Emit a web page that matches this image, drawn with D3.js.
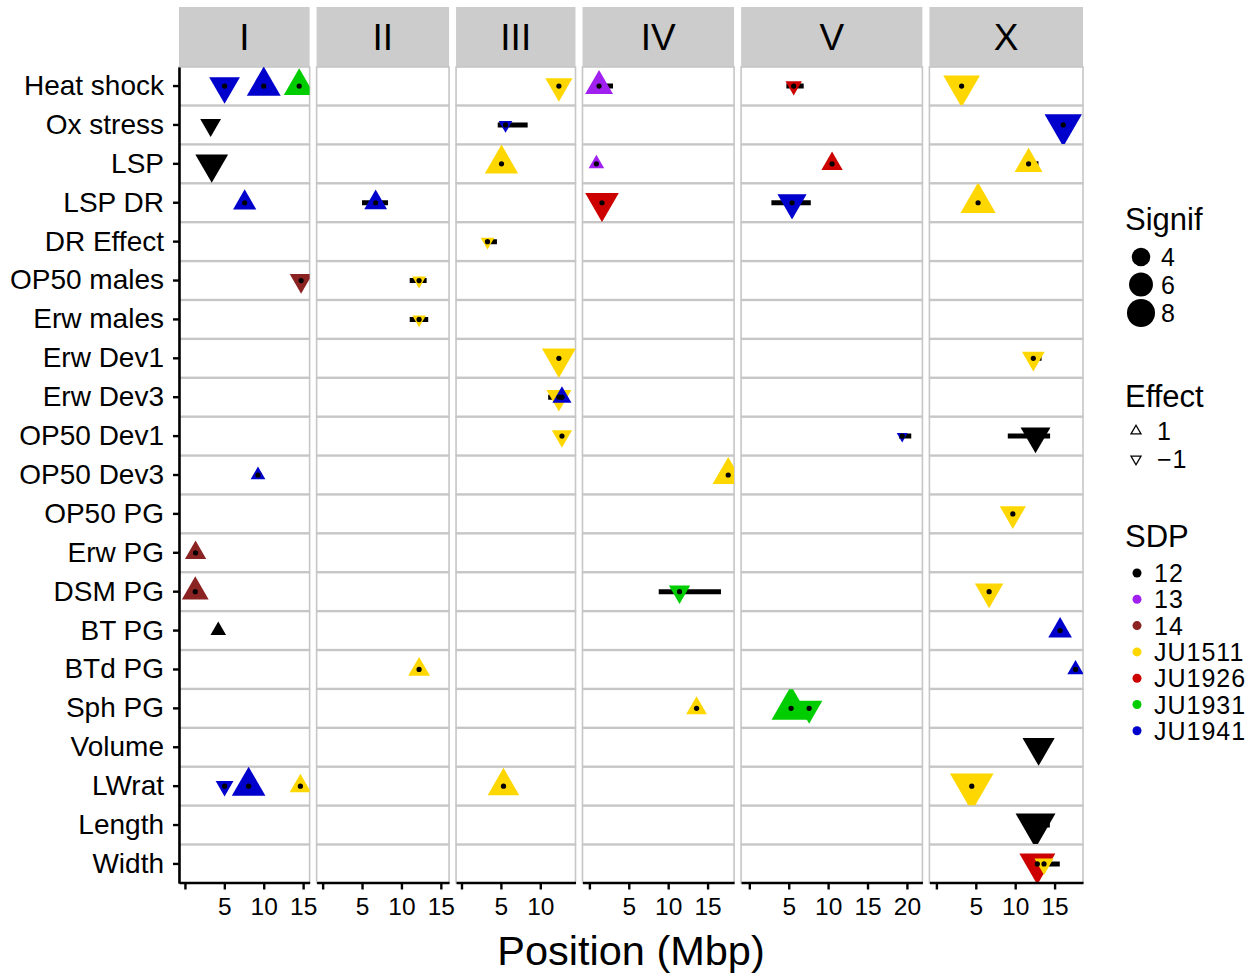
<!DOCTYPE html>
<html>
<head>
<meta charset="utf-8">
<script src="https://cdn.jsdelivr.net/npm/d3@7"></script>
<style>
  body { margin: 0; background: #fff; }
  svg text { font-family: "Liberation Sans", Arial, sans-serif; fill: #000; }
</style>
</head>
<body>
<div id="chart"></div>
<script>
// traits (rows) and chromosomes (columns)
var traits = ["Heat shock", "Ox stress", "LSP", "LSP DR", "DR Effect", "OP50 males", "Erw males",
  "Erw Dev1", "Erw Dev3", "OP50 Dev1", "OP50 Dev3", "OP50 PG", "Erw PG", "DSM PG", "BT PG",
  "BTd PG", "Sph PG", "Volume", "LWrat", "Length", "Width"];
var chroms = ["I", "II", "III", "IV", "V", "X"];
var chromLen = [15.07, 15.28, 13.78, 17.49, 20.92, 17.72];   // Mbp
var xTicks = [0, 5, 10, 15, 20];

var sdpLevels = ["12", "13", "14", "JU1511", "JU1926", "JU1931", "JU1941"];
var sdpColors = ["#000000", "#A020F0", "#8B2323", "#FFD700", "#CD0000", "#00CD00", "#0000CD"];
var signifBreaks = [4, 6, 8];
var effectLevels = [1, -1];

// QTL peaks: trait, chrom, position (Mbp), signif, effect, SDP
var peaks = [
  ["Heat shock", "I", 5.03, 5.9, -1, "JU1941"],
  ["Heat shock", "I", 10.0, 7.0, 1, "JU1941"],
  ["Heat shock", "I", 14.5, 5.9, 1, "JU1931"],
  ["Heat shock", "III", 12.36, 4.8, -1, "JU1511"],
  ["Heat shock", "IV", 1.23, 5.0, 1, "13"],
  ["Heat shock", "V", 5.63, 2.6, -1, "JU1926"],
  ["Heat shock", "X", 3.2, 8.1, -1, "JU1511"],
  ["Ox stress", "I", 3.26, 3.3, -1, "12"],
  ["Ox stress", "III", 5.59, 2.3, -1, "JU1941"],
  ["Ox stress", "X", 16.1, 8.4, -1, "JU1941"],
  ["LSP", "I", 3.4, 6.6, -1, "12"],
  ["LSP", "III", 5.08, 6.8, 1, "JU1511"],
  ["LSP", "IV", 0.89, 2.5, 1, "13"],
  ["LSP", "V", 10.5, 3.4, 1, "JU1926"],
  ["LSP", "X", 11.7, 5.0, 1, "JU1511"],
  ["LSP DR", "I", 7.58, 3.8, 1, "JU1941"],
  ["LSP DR", "II", 6.73, 3.7, 1, "JU1941"],
  ["LSP DR", "IV", 1.6, 6.9, -1, "JU1926"],
  ["LSP DR", "V", 5.42, 5.4, -1, "JU1941"],
  ["LSP DR", "X", 5.29, 7.5, 1, "JU1511"],
  ["DR Effect", "III", 3.3, 2.3, -1, "JU1511"],
  ["OP50 males", "I", 14.74, 3.7, -1, "14"],
  ["OP50 males", "II", 12.24, 2.3, -1, "JU1511"],
  ["Erw males", "II", 12.24, 2.3, -1, "JU1511"],
  ["Erw Dev1", "III", 12.36, 7.0, -1, "JU1511"],
  ["Erw Dev1", "X", 12.3, 3.7, -1, "JU1511"],
  ["Erw Dev3", "III", 12.36, 4.2, -1, "JU1511"],
  ["Erw Dev3", "III", 12.75, 3.0, 1, "JU1941"],
  ["OP50 Dev1", "III", 12.75, 3.2, -1, "JU1511"],
  ["OP50 Dev1", "V", 19.4, 2.1, -1, "JU1941"],
  ["OP50 Dev1", "X", 12.58, 5.6, -1, "12"],
  ["OP50 Dev3", "I", 9.27, 2.4, 1, "JU1941"],
  ["OP50 Dev3", "IV", 17.62, 6.1, 1, "JU1511"],
  ["OP50 PG", "X", 9.7, 4.5, -1, "JU1511"],
  ["Erw PG", "I", 1.35, 3.4, 1, "14"],
  ["DSM PG", "I", 1.31, 4.7, 1, "14"],
  ["DSM PG", "IV", 11.44, 3.4, -1, "JU1931"],
  ["DSM PG", "X", 6.69, 5.2, -1, "JU1511"],
  ["BT PG", "I", 4.23, 2.5, 1, "12"],
  ["BT PG", "X", 15.7, 3.9, 1, "JU1941"],
  ["BTd PG", "II", 12.24, 3.5, 1, "JU1511"],
  ["BTd PG", "X", 17.66, 2.6, 1, "JU1941"],
  ["Sph PG", "IV", 13.6, 3.3, 1, "JU1511"],
  ["Sph PG", "V", 5.3, 9.1, 1, "JU1931"],
  ["Sph PG", "V", 7.59, 4.6, -1, "JU1931"],
  ["Volume", "X", 12.97, 6.4, -1, "12"],
  ["LWrat", "I", 5.03, 2.8, -1, "JU1941"],
  ["LWrat", "I", 8.08, 6.9, 1, "JU1941"],
  ["LWrat", "I", 14.65, 3.4, 1, "JU1511"],
  ["LWrat", "III", 5.33, 6.2, 1, "JU1511"],
  ["LWrat", "X", 4.49, 11.3, -1, "JU1511"],
  ["Length", "X", 12.58, 9.5, -1, "12"],
  ["Width", "X", 12.81, 7.8, -1, "JU1926"],
  ["Width", "X", 13.66, 3.0, -1, "JU1511"]
];

// confidence intervals: trait, chrom, left (Mbp), right (Mbp)
var intervals = [
  ["Heat shock", "IV", 0.9, 3.0],
  ["Heat shock", "V", 4.7, 6.9],
  ["Ox stress", "III", 4.6, 8.4],
  ["LSP", "X", 11.0, 12.95],
  ["LSP DR", "II", 5.0, 8.3],
  ["LSP DR", "V", 2.8, 7.8],
  ["DR Effect", "III", 3.0, 4.5],
  ["OP50 males", "II", 11.05, 13.2],
  ["Erw males", "II", 11.05, 13.4],
  ["Erw Dev1", "X", 12.0, 13.35],
  ["Erw Dev3", "III", 11.0, 12.9],
  ["OP50 Dev1", "V", 19.0, 20.55],
  ["OP50 Dev1", "X", 9.06, 14.43],
  ["OP50 Dev3", "I", 9.0, 9.7],
  ["DSM PG", "IV", 8.8, 16.7],
  ["Length", "X", 11.5, 14.4],
  ["Width", "X", 12.2, 15.66]
];

var svgWidth = 1260, svgHeight = 978;
var plotLeft = 179, plotRight = 1083, stripTop = 7, stripH = 60;
var rowTop = 67, rowBottom = 883, gap = 7;

var svg = d3.select("#chart").append("svg")
  .attr("width", svgWidth)
  .attr("height", svgHeight);
svg.append("rect").attr("width", svgWidth).attr("height", svgHeight).attr("fill", "#fff");

// column widths follow chromosome length (free space)
var pxPerMb = (plotRight - plotLeft - gap * (chroms.length - 1)) / (1.1 * d3.sum(chromLen));
var xScales = {};
var left = plotLeft;
chroms.forEach(function(c, i) {
  var L = chromLen[i];
  var w = 1.1 * L * pxPerMb;
  xScales[c] = d3.scaleLinear().domain([-0.05 * L, 1.05 * L]).range([left, left + w]);
  left += w + gap;
});

var yScale = d3.scaleBand().domain(traits).range([rowTop, rowBottom]).paddingInner(0.02);
var color = d3.scaleOrdinal().domain(sdpLevels).range(sdpColors);

// signif -> circle diameter; triangles get the same area
var sqrtPart = d3.scaleSqrt().domain([0, 10]).range([0, 9.2 * Math.sqrt(10)]);
function diam(v) { return 5.5 + sqrtPart(v - 2); }
function triPath(side, eff) {
  var r = side / Math.sqrt(3), h = side / 2;
  if (eff > 0) return "M0," + (-r) + "L" + h + "," + (r / 2) + "L" + (-h) + "," + (r / 2) + "Z";
  return "M0," + r + "L" + h + "," + (-r / 2) + "L" + (-h) + "," + (-r / 2) + "Z";
}

// strips
var strips = svg.append("g");
chroms.forEach(function(c) {
  var r = xScales[c].range();
  strips.append("rect")
    .attr("x", r[0]).attr("y", stripTop)
    .attr("width", r[1] - r[0]).attr("height", stripH)
    .attr("fill", "#CCCCCC");
  strips.append("text")
    .attr("x", (r[0] + r[1]) / 2).attr("y", 50)
    .attr("text-anchor", "middle")
    .style("font-size", "37px")
    .text(c);
});

// cells + clip paths
var defs = svg.append("defs");
var cells = svg.append("g");
traits.forEach(function(t, ti) {
  chroms.forEach(function(c, ci) {
    var r = xScales[c].range();
    defs.append("clipPath").attr("id", "clip-" + ti + "-" + ci)
      .append("rect")
      .attr("x", r[0]).attr("y", yScale(t))
      .attr("width", r[1] - r[0]).attr("height", yScale.bandwidth());
    cells.append("rect")
      .attr("x", r[0]).attr("y", yScale(t))
      .attr("width", r[1] - r[0]).attr("height", yScale.bandwidth())
      .attr("fill", "#fff")
      .attr("stroke", "#C6C6C6")
      .attr("stroke-width", 1.6);
  });
});

function clipOf(t, c) {
  return "url(#clip-" + traits.indexOf(t) + "-" + chroms.indexOf(c) + ")";
}
function yMid(t) { return yScale(t) + yScale.bandwidth() / 2; }

// interval bars
svg.append("g").selectAll("line")
  .data(intervals).enter()
  .append("line")
  .attr("clip-path", function(d) { return clipOf(d[0], d[1]); })
  .attr("x1", function(d) { return xScales[d[1]](d[2]); })
  .attr("x2", function(d) { return xScales[d[1]](d[3]); })
  .attr("y1", function(d) { return yMid(d[0]); })
  .attr("y2", function(d) { return yMid(d[0]); })
  .attr("stroke", "#000")
  .attr("stroke-width", 5);

// triangles
svg.append("g").selectAll("g")
  .data(peaks).enter()
  .append("g")
  .attr("clip-path", function(d) { return clipOf(d[0], d[1]); })
  .append("path")
  .attr("transform", function(d) { return "translate(" + xScales[d[1]](d[2]) + "," + yMid(d[0]) + ")"; })
  .attr("d", function(d) { return triPath(1.3 * diam(d[3]), d[4]); })
  .attr("fill", function(d) { return color(d[5]); });

// centre dots
svg.append("g").selectAll("circle")
  .data(peaks).enter()
  .append("circle")
  .attr("cx", function(d) { return xScales[d[1]](d[2]); })
  .attr("cy", function(d) { return yMid(d[0]); })
  .attr("r", 2.6)
  .attr("fill", "#000");

// y axis
var yAxis = svg.append("g")
  .attr("transform", "translate(" + plotLeft + ",0)")
  .call(d3.axisLeft(yScale).tickSize(6).tickSizeOuter(0).tickPadding(9));
yAxis.select(".domain").attr("stroke", "#000").attr("stroke-width", 2.6);
yAxis.selectAll(".tick line").attr("stroke", "#000").attr("stroke-width", 2.4);
yAxis.selectAll("text").style("font-size", "28px").attr("fill", "#000");

// x axes, one per column
chroms.forEach(function(c, i) {
  var ticks = xTicks.filter(function(v) { return v <= chromLen[i]; });
  var ax = svg.append("g")
    .attr("transform", "translate(0," + (rowBottom - 0.5) + ")")
    .call(d3.axisBottom(xScales[c]).tickValues(ticks).tickSize(7).tickSizeOuter(0).tickPadding(8)
      .tickFormat(function(v) { return v === 0 ? "" : v; }));
  ax.select(".domain").attr("stroke", "#000").attr("stroke-width", 2.6);
  ax.selectAll(".tick line").attr("stroke", "#000").attr("stroke-width", 2.4);
  ax.selectAll("text").style("font-size", "24.5px").attr("fill", "#000");
});

svg.append("text")
  .attr("x", (plotLeft + plotRight) / 2).attr("y", 965)
  .attr("text-anchor", "middle")
  .style("font-size", "41.5px")
  .text("Position (Mbp)");

// legends
var leg = svg.append("g");
leg.append("text").attr("x", 1125).attr("y", 230).style("font-size", "31px").text("Signif");
var sigY = [257, 284.5, 313];
signifBreaks.forEach(function(v, i) {
  leg.append("circle").attr("cx", 1141).attr("cy", sigY[i]).attr("r", diam(v) / 2).attr("fill", "#000");
  leg.append("text").attr("x", 1161).attr("y", sigY[i]).attr("dy", "0.36em")
    .style("font-size", "25px").style("letter-spacing", "1px").text(v);
});

leg.append("text").attr("x", 1125).attr("y", 407).style("font-size", "31px").text("Effect");
effectLevels.forEach(function(e, i) {
  var y = 431 + i * 28;
  leg.append("path")
    .attr("transform", "translate(1136," + y + ")")
    .attr("d", triPath(10, e))
    .attr("fill", "none").attr("stroke", "#000").attr("stroke-width", 1.3);
  leg.append("text").attr("x", 1157).attr("y", y).attr("dy", "0.36em")
    .style("font-size", "25px").style("letter-spacing", "1px").text(e < 0 ? "\u22121" : e);
});

leg.append("text").attr("x", 1125).attr("y", 547).style("font-size", "31px").text("SDP");
sdpLevels.forEach(function(s, i) {
  var y = 573 + i * 26.3;
  leg.append("circle").attr("cx", 1137).attr("cy", y).attr("r", 4.5).attr("fill", color(s));
  leg.append("text").attr("x", 1154).attr("y", y).attr("dy", "0.36em")
    .style("font-size", "25px").style("letter-spacing", "1px").text(s);
});
</script>
</body>
</html>
